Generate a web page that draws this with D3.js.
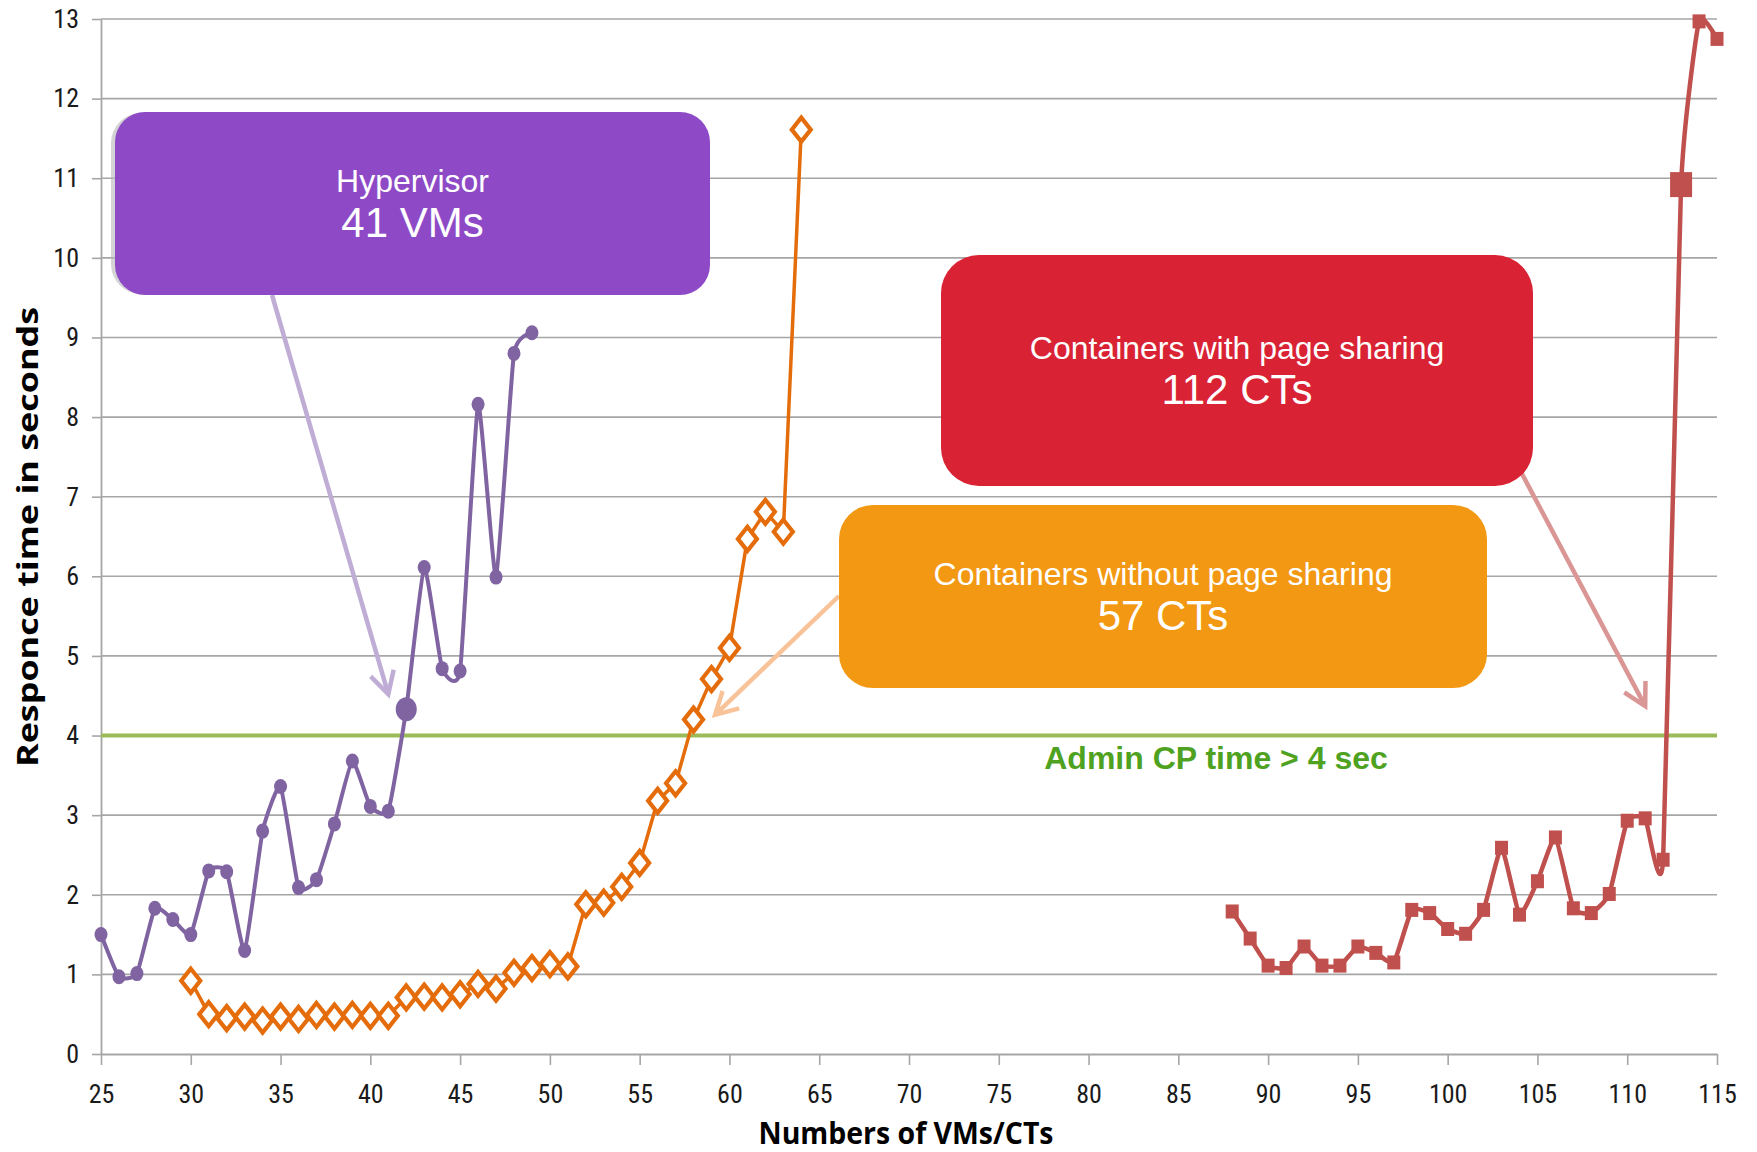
<!DOCTYPE html>
<html>
<head>
<meta charset="utf-8">
<script src="https://cdn.jsdelivr.net/npm/d3@7"></script>
<style>
  html, body { margin: 0; padding: 0; background: #ffffff; }
  svg { display: block; }
</style>
</head>
<body>
<svg id="chart" width="1757" height="1152"></svg>
<script>
// ---- data -------------------------------------------------------------
const hypervisorCounts = [25, 26, 27, 28, 29, 30, 31, 32, 33, 34, 35, 36, 37, 38, 39, 40, 41, 42, 43, 44, 45, 46, 47, 48, 49];
const hypervisorTimes  = [1.50, 0.97, 1.01, 1.83, 1.69, 1.50, 2.30, 2.29, 1.30, 2.80, 3.36, 2.09, 2.19, 2.89, 3.68, 3.11, 3.05, 4.33, 6.11, 4.84, 4.81, 8.16, 5.99, 8.80, 9.06];

const noSharingCounts = [30, 31, 32, 33, 34, 35, 36, 37, 38, 39, 40, 41, 42, 43, 44, 45, 46, 47, 48, 49, 50, 51, 52, 53, 54, 55, 56, 57, 58, 59, 60, 61, 62, 63, 64];
const noSharingTimes  = [0.92, 0.50, 0.45, 0.47, 0.42, 0.47, 0.44, 0.49, 0.47, 0.49, 0.48, 0.48, 0.71, 0.72, 0.71, 0.75, 0.88, 0.82, 1.02, 1.08, 1.13, 1.10, 1.88, 1.90, 2.10, 2.40, 3.18, 3.40, 4.20, 4.71, 5.10, 6.47, 6.81, 6.56, 11.61];

const sharingCounts = [88, 89, 90, 91, 92, 93, 94, 95, 96, 97, 98, 99, 100, 101, 102, 103, 104, 105, 106, 107, 108, 109, 110, 111, 112, 113, 114, 115];
const sharingTimes  = [1.79, 1.45, 1.11, 1.08, 1.35, 1.11, 1.11, 1.35, 1.27, 1.15, 1.81, 1.77, 1.57, 1.51, 1.81, 2.59, 1.75, 2.17, 2.72, 1.83, 1.77, 2.01, 2.93, 2.96, 2.44, 10.92, 12.97, 12.75];

// first point past the admin threshold, drawn with an enlarged marker
const hypervisorBreak = 42;
const sharingBreak = 113;

const thresholdSeconds = 4;
const thresholdLabel = "Admin CP time > 4 sec";

const xTickValues = [25, 30, 35, 40, 45, 50, 55, 60, 65, 70, 75, 80, 85, 90, 95, 100, 105, 110, 115];
const yTickValues = [0, 1, 2, 3, 4, 5, 6, 7, 8, 9, 10, 11, 12, 13];

const xTitle = "Numbers of VMs/CTs";
const yTitle = "Responce time in seconds";

// callout boxes: caption, headline, and the point (count, seconds) the arrow tip sits on
const callouts = [
  { caption: "Hypervisor", headline: "41 VMs", fill: "#8e4ac6", arrow: "#bfadd6",
    box: [115, 112, 595, 183], radius: 30, from: [272, 295], to: [41.0, 4.52], shadow: true },
  { caption: "Containers with page sharing", headline: "112 CTs", fill: "#d92234", arrow: "#d99694",
    box: [941, 255, 592, 231], radius: 38, from: [1521, 472], to: [111.0, 4.37], shadow: false },
  { caption: "Containers without page sharing", headline: "57 CTs", fill: "#f29812", arrow: "#f9c399",
    box: [839, 505, 648, 183], radius: 34, from: [839, 596], to: [59.2, 4.26], shadow: false }
];

// ---- scales & frame ---------------------------------------------------
const svg = d3.select("#chart");
const x = d3.scaleLinear().domain([25, 115]).range([101, 1717]);
const y = d3.scaleLinear().domain([0, 13]).range([1054, 19]);

const gridColor = "#a6a6a6";
const tickFont = "'Liberation Sans Narrow', 'Roboto Condensed', 'Arial Narrow', 'Liberation Sans', sans-serif";

// horizontal gridlines
svg.append("g")
  .selectAll("line")
  .data(yTickValues.filter(v => v > 0))
  .join("line")
  .attr("x1", x(25)).attr("x2", x(115))
  .attr("y1", d => y(d)).attr("y2", d => y(d))
  .attr("stroke", gridColor).attr("stroke-width", 1.6);

// y axis
const yAxis = svg.append("g")
  .attr("transform", `translate(${x(25)},0)`)
  .call(d3.axisLeft(y).tickValues(yTickValues).tickSize(9).tickSizeOuter(0).tickPadding(13));
// x axis
const xAxis = svg.append("g")
  .attr("transform", `translate(0,${y(0)})`)
  .call(d3.axisBottom(x).tickValues(xTickValues).tickSize(11).tickSizeOuter(0).tickPadding(20));

[yAxis, xAxis].forEach(g => {
  g.select(".domain").attr("stroke", gridColor).attr("stroke-width", 1.8);
  g.selectAll(".tick line").attr("stroke", gridColor).attr("stroke-width", 1.6);
  g.selectAll(".tick text")
    .attr("fill", "#1a1a1a")
    .style("font-family", tickFont)
    .style("font-size", "26px");
});

// admin threshold line
svg.append("line")
  .attr("x1", x(25)).attr("x2", x(115))
  .attr("y1", y(thresholdSeconds)).attr("y2", y(thresholdSeconds))
  .attr("stroke", "#9bbb59").attr("stroke-width", 4);

svg.append("text")
  .attr("x", 1216).attr("y", y(thresholdSeconds) + 33)
  .attr("text-anchor", "middle")
  .attr("fill", "#4ea21f")
  .style("font-family", "'Liberation Sans', Arial, sans-serif")
  .style("font-weight", "bold")
  .style("font-size", "32px")
  .text(thresholdLabel);

// ---- callouts ---------------------------------------------------------
const calloutLayer = svg.append("g");
callouts.forEach(c => {
  const [bx, by, bw, bh] = c.box;
  const tip = [x(c.to[0]), y(c.to[1])];

  // arrow shaft + open head
  const ang = Math.atan2(tip[1] - c.from[1], tip[0] - c.from[0]);
  const arm = 25, spread = 0.5;
  const a1 = [tip[0] - arm * Math.cos(ang - spread), tip[1] - arm * Math.sin(ang - spread)];
  const a2 = [tip[0] - arm * Math.cos(ang + spread), tip[1] - arm * Math.sin(ang + spread)];
  calloutLayer.append("line")
    .attr("x1", c.from[0]).attr("y1", c.from[1])
    .attr("x2", tip[0]).attr("y2", tip[1])
    .attr("stroke", c.arrow).attr("stroke-width", 4.5);
  calloutLayer.append("path")
    .attr("d", d3.line()([a1, tip, a2]))
    .attr("fill", "none").attr("stroke", c.arrow)
    .attr("stroke-width", 4.5).attr("stroke-linejoin", "miter");

  if (c.shadow) {
    calloutLayer.append("rect")
      .attr("x", bx - 4).attr("y", by + 1).attr("width", bw).attr("height", bh - 2)
      .attr("rx", c.radius).attr("fill", "#b8b8b8").attr("opacity", 0.6);
  }
  calloutLayer.append("rect")
    .attr("x", bx).attr("y", by).attr("width", bw).attr("height", bh)
    .attr("rx", c.radius).attr("fill", c.fill);

  const cx = bx + bw / 2, cy = by + bh / 2;
  calloutLayer.append("text")
    .attr("x", cx).attr("y", cy - 12)
    .attr("text-anchor", "middle").attr("fill", "#ffffff")
    .style("font-family", "'Liberation Sans', Arial, sans-serif")
    .style("font-size", "32px")
    .text(c.caption);
  calloutLayer.append("text")
    .attr("x", cx).attr("y", cy + 33)
    .attr("text-anchor", "middle").attr("fill", "#ffffff")
    .style("font-family", "'Liberation Sans', Arial, sans-serif")
    .style("font-size", "42px")
    .text(c.headline);
});

// ---- series -----------------------------------------------------------
const hypervisor = hypervisorCounts.map((c, i) => ({ c, t: hypervisorTimes[i] }));
const noSharing  = noSharingCounts.map((c, i) => ({ c, t: noSharingTimes[i] }));
const sharing    = sharingCounts.map((c, i) => ({ c, t: sharingTimes[i] }));

const smooth = d3.line().x(d => x(d.c)).y(d => y(d.t)).curve(d3.curveCardinal.tension(0.55));
const straight = d3.line().x(d => x(d.c)).y(d => y(d.t));

// Hypervisor: smoothed purple line with round markers
const purple = "#8064a2";
svg.append("path").datum(hypervisor)
  .attr("d", smooth).attr("fill", "none")
  .attr("stroke", purple).attr("stroke-width", 4).attr("stroke-linejoin", "round");
svg.append("g").selectAll("ellipse").data(hypervisor).join("ellipse")
  .attr("cx", d => x(d.c)).attr("cy", d => y(d.t))
  .attr("rx", d => d.c === hypervisorBreak ? 10.5 : 6.5)
  .attr("ry", d => d.c === hypervisorBreak ? 12 : 7.5)
  .attr("fill", purple);

// Containers without page sharing: orange line with hollow diamonds
const orange = "#e46c0a";
svg.append("path").datum(noSharing)
  .attr("d", straight).attr("fill", "none")
  .attr("stroke", orange).attr("stroke-width", 3.5).attr("stroke-linejoin", "round");
svg.append("g").selectAll("path").data(noSharing).join("path")
  .attr("transform", d => `translate(${x(d.c)},${y(d.t)})`)
  .attr("d", "M0,-12L9.5,0L0,12L-9.5,0Z")
  .attr("fill", "#ffffff").attr("stroke", orange).attr("stroke-width", 4.2)
  .attr("stroke-linejoin", "miter");

// Containers with page sharing: smoothed red line with square markers
const red = "#c0504d";
svg.append("path").datum(sharing)
  .attr("d", smooth).attr("fill", "none")
  .attr("stroke", red).attr("stroke-width", 4.5).attr("stroke-linejoin", "round");
svg.append("g").selectAll("rect").data(sharing).join("rect")
  .attr("x", d => x(d.c) - (d.c === sharingBreak ? 11 : 6.5))
  .attr("y", d => y(d.t) - (d.c === sharingBreak ? 12.5 : 7))
  .attr("width", d => d.c === sharingBreak ? 22 : 13)
  .attr("height", d => d.c === sharingBreak ? 25 : 14)
  .attr("fill", red);

// ---- axis titles ------------------------------------------------------
svg.append("text")
  .attr("x", 906).attr("y", 1144)
  .attr("text-anchor", "middle")
  .attr("fill", "#000000")
  .attr("textLength", 295).attr("lengthAdjust", "spacingAndGlyphs")
  .style("font-family", "'Liberation Sans Narrow', 'Open Sans', 'Liberation Sans', sans-serif")
  .style("font-weight", "bold")
  .style("font-size", "31px")
  .text(xTitle);

svg.append("text")
  .attr("transform", "translate(38,537) rotate(-90)")
  .attr("text-anchor", "middle")
  .attr("fill", "#000000")
  .attr("textLength", 460).attr("lengthAdjust", "spacingAndGlyphs")
  .style("font-family", "'Open Sans', 'DejaVu Sans', sans-serif")
  .style("font-weight", "bold")
  .style("font-size", "29px")
  .text(yTitle);
</script>
</body>
</html>
